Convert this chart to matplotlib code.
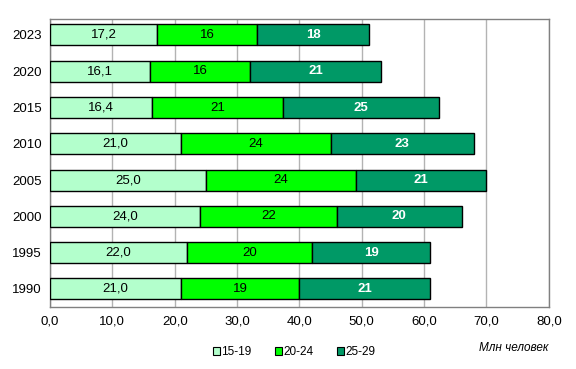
import matplotlib.pyplot as plt
from matplotlib.patches import Patch
import numpy as np

plt.rcParams['font.family'] = ['Liberation Sans', 'DejaVu Sans']

years = ['1990', '1995', '2000', '2005', '2010', '2015', '2020', '2023']
age_15_19 = [21.0, 22.0, 24.0, 25.0, 21.0, 16.4, 16.1, 17.2]
age_20_24 = [19, 20, 22, 24, 24, 21, 16, 16]
age_25_29 = [21, 19, 20, 21, 23, 25, 21, 18]
groups = ['15-19', '20-24', '25-29']
colors = ['#b3ffcc', '#00ff00', '#009966']

fig = plt.figure(figsize=(5.76, 3.69), dpi=100)
ax = fig.add_axes([0.0868, 0.168, 0.866, 0.7805])

y = np.arange(len(years))
left = np.zeros(len(years))
series = [age_15_19, age_20_24, age_25_29]
for k, vals in enumerate(series):
    vals = np.array(vals, dtype=float)
    ax.barh(y, vals, left=left, height=0.58, color=colors[k],
            edgecolor='black', linewidth=1.0, zorder=3)
    for i, v in enumerate(vals):
        if k == 0:
            txt = ('%.1f' % v).replace('.', ',')
        else:
            txt = '%d' % v
        ax.text(left[i] + v / 2, y[i], txt, ha='center', va='center',
                fontsize=9.5, color='white' if k == 2 else 'black',
                fontweight='bold' if k == 2 else 'normal', zorder=4)
    left += vals

ax.set_xlim(0, 80)
ax.set_ylim(-0.5, 7.44)
ax.set_yticks(y)
ax.set_yticklabels(years, fontsize=9.5)
xt = np.arange(0, 81, 10)
ax.set_xticks(xt)
ax.set_xticklabels([('%.1f' % v).replace('.', ',') for v in xt], fontsize=9.5)
ax.tick_params(length=0, pad=6)
ax.xaxis.grid(True, color='#b3b3b3', linewidth=1, zorder=0)
for s in ax.spines.values():
    s.set_color('#808080')
    s.set_linewidth(1)

handles = [Patch(facecolor=colors[k], edgecolor='black', linewidth=0.8)
           for k in range(3)]
fig.legend(handles, groups, loc='center', bbox_to_anchor=(0.51, 0.045),
           ncol=3, frameon=False, fontsize=8.5, handlelength=0.6,
           handleheight=0.6, handletextpad=0.1, columnspacing=2.0)
fig.text(0.952, 0.058, 'Млн человек', ha='right', va='center',
         fontsize=8.5, style='italic')

fig.savefig('out.png', dpi=100)
